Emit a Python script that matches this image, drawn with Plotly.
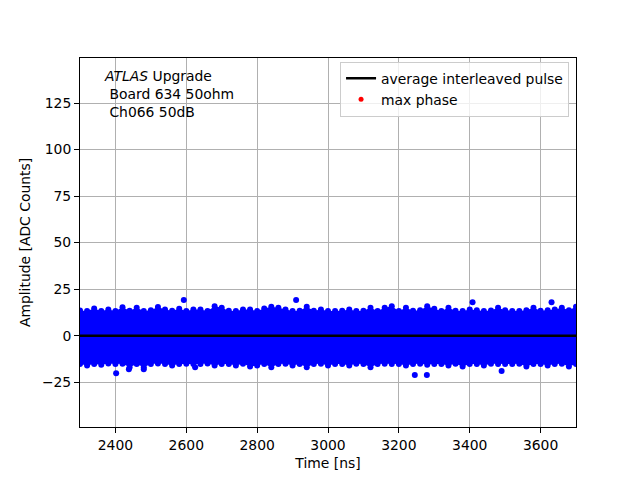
import plotly.graph_objects as go

# Time grid of the dense noise band (ns) and its read-off envelope (ADC counts)
band_t = [2300 + 20 * i for i in range(71)]
band_upper = [13.5, 13.2, 14.6, 13.2, 14.1, 13.2, 15.3, 13.4, 15.0, 13.2,
              13.6, 15.4, 14.1, 13.4, 14.5, 13.2, 14.1, 14.1, 13.2, 15.8,
              15.0, 13.4, 13.2, 14.1, 14.1, 13.2, 14.6, 15.5, 15.0, 14.1,
              13.2, 13.4, 15.5, 13.4, 14.1, 13.2, 13.2, 13.4, 14.1, 13.2,
              13.4, 15.0, 13.3, 15.0, 15.8, 13.3, 15.0, 13.4, 13.6, 15.8,
              14.5, 13.3, 15.0, 13.4, 13.2, 14.0, 13.6, 13.2, 13.5, 15.0,
              13.6, 13.3, 13.2, 13.6, 15.0, 13.4, 13.6, 14.1, 15.0, 13.6,
              15.5]
band_lower = [-15.3, -16.1, -15.2, -15.7, -15.0, -15.3, -15.1, -17.0, -15.2, -17.0,
              -15.3, -15.0, -15.2, -16.1, -15.3, -15.1, -15.3, -15.2, -15.0, -16.1,
              -15.3, -15.2, -16.1, -15.1, -16.6, -16.1, -15.2, -17.0, -15.3, -15.1,
              -16.1, -15.2, -17.0, -15.3, -15.1, -16.1, -15.2, -15.3, -16.1, -15.1,
              -15.3, -17.0, -15.2, -15.1, -15.3, -15.2, -16.1, -15.3, -15.1, -15.7,
              -15.2, -15.3, -16.1, -15.1, -16.6, -15.3, -15.2, -16.1, -15.1, -15.3,
              -15.2, -15.3, -15.1, -16.6, -15.2, -15.3, -16.1, -15.2, -15.1, -16.6,
              -15.3]

# Isolated samples outside the band
outlier_t = [2593, 2910, 3408, 3631, 2402, 2438, 2480, 2625, 3245, 3279, 3490]
outlier_y = [19.2, 19.2, 18.0, 18.0, -20.2, -18.0, -18.0, -17.0, -21.2, -21.2, -19.0]

# Average interleaved pulse (flat at zero)
pulse_t = [2300, 2700, 3100, 3500, 3700]
pulse_y = [0, 0, 0, 0, 0]

BLUE = "#0000ff"
FONT = "DejaVu Sans"
FS = 13.9

fig = go.Figure()
fig.add_trace(go.Scatter(x=band_t, y=band_upper, mode="lines+markers",
                         line=dict(width=0, color=BLUE),
                         marker=dict(color=BLUE, size=6),
                         showlegend=False, hoverinfo="skip"))
fig.add_trace(go.Scatter(x=band_t, y=band_lower, mode="lines+markers",
                         line=dict(width=0, color=BLUE),
                         marker=dict(color=BLUE, size=6),
                         fill="tonexty", fillcolor=BLUE,
                         showlegend=False, hoverinfo="skip"))
fig.add_trace(go.Scatter(x=outlier_t, y=outlier_y, mode="markers",
                         marker=dict(color=BLUE, size=6), showlegend=False))
fig.add_trace(go.Scatter(x=pulse_t, y=pulse_y, mode="lines",
                         line=dict(color="black", width=2.5),
                         name="average interleaved pulse"))
fig.add_trace(go.Scatter(x=[None], y=[None], mode="markers",
                         marker=dict(color="red", size=5),
                         name="max phase"))

axis_common = dict(showgrid=True, gridcolor="#b0b0b0", gridwidth=1,
                   showline=True, linecolor="black", linewidth=1, mirror=True,
                   ticks="outside", ticklen=5, tickcolor="black", automargin=False,
                   zeroline=False, tickfont=dict(size=FS, color="black", family=FONT))

fig.update_xaxes(range=[2300, 3700], dtick=200, tick0=2400,
                 title=dict(text="Time [ns]", font=dict(size=FS, family=FONT, color="black"), standoff=6),
                 **axis_common)
fig.update_yaxes(range=[-49.1, 149.2], tickvals=[-25, 0, 25, 50, 75, 100, 125],
                 ticktext=["\u221225", "0", "25", "50", "75", "100", "125"],
                 title=dict(text="Amplitude [ADC Counts]", font=dict(size=FS, family=FONT, color="black"), standoff=8),
                 **axis_common)

fig.add_annotation(xref="paper", yref="paper", x=0.045, y=0.978,
                   xanchor="left", yanchor="top", align="left", showarrow=False,
                   text="<i>ATLAS</i> Upgrade<br> Board 634 50ohm<br> Ch066 50dB",
                   font=dict(size=FS, family=FONT, color="black"))

fig.update_layout(
    width=632, height=472,
    margin=dict(l=72, r=64, t=49.6, b=52.8, autoexpand=False),
    paper_bgcolor="white", plot_bgcolor="white",
    font=dict(family=FONT, color="black"),
    legend=dict(x=0.986, y=0.99, xanchor="right", yanchor="top",
                bgcolor="rgba(255,255,255,0.8)", bordercolor="#cccccc", borderwidth=1,
                font=dict(size=FS, family=FONT, color="black"),
                traceorder="normal", tracegroupgap=0, itemwidth=30),
)

fig.write_html("out.html")
